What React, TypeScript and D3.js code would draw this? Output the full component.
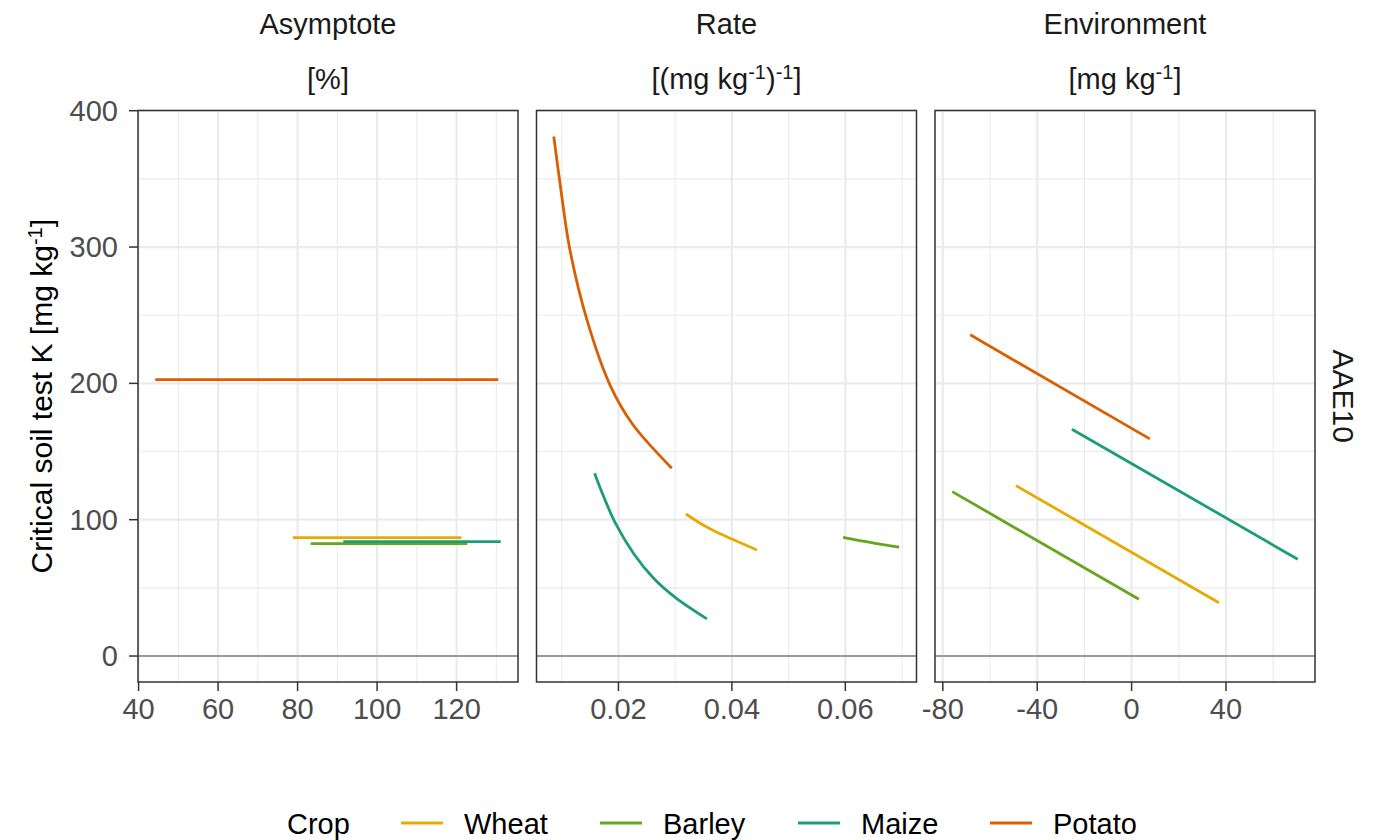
import React from "react";
import * as d3 from "d3";

// facets and crops
const facetNames = ["Asymptote", "Rate", "Environment"];
const crops = ["Wheat", "Barley", "Maize", "Potato"];
const cropColors = ["#E6AB02", "#66A61E", "#1B9E77", "#D95F02"];

// x ticks per facet
const asymTicks = [40, 60, 80, 100, 120];
const rateTicks = [0.02, 0.04, 0.06];
const envTicks = [-80, -40, 0, 40];
const yTicks = [0, 100, 200, 300, 400];

// Asymptote [%] vs critical K
const asymWheat = [[78.8, 86.8], [121.2, 86.8]];
const asymBarley = [[83.3, 82.4], [122.7, 82.4]];
const asymMaize = [[91.5, 83.9], [131.1, 83.9]];
const asymPotato = [[44.2, 202.8], [130.5, 202.8]];

// Rate vs critical K
const rateWheat = [[0.0319, 104.2], [0.0344, 97.4], [0.037, 91.5], [0.04, 85.8], [0.0444, 77.8]];
const rateBarley = [[0.0596, 87.1], [0.0646, 83.2], [0.0695, 79.8]];
const rateMaize = [[0.0158, 134], [0.0169, 122], [0.0194, 98], [0.0227, 75], [0.0262, 57], [0.03, 43], [0.0356, 27.2]];
const ratePotato = [[0.0086, 381.1], [0.00976, 345], [0.0114, 299], [0.01449, 246], [0.0186, 198], [0.0225, 170], [0.0294, 137.8]];

// Environment vs critical K
const envWheat = [[-49, 125], [37, 39.1]];
const envBarley = [[-76, 120.6], [3.1, 41.6]];
const envMaize = [[-25.3, 166.4], [70.4, 71]];
const envPotato = [[-68.4, 235.6], [7.7, 159.3]];

const facetData = [
  [asymWheat, asymBarley, asymMaize, asymPotato],
  [rateWheat, rateBarley, rateMaize, ratePotato],
  [envWheat, envBarley, envMaize, envPotato],
];
const facetTicks = [asymTicks, rateTicks, envTicks];
const tickFormat = [(d) => String(d), (d) => d3.format(".2f")(d), (d) => String(d)];

const font = "'Liberation Sans', Arial, Helvetica, sans-serif";
const W = 1378, H = 840;
const top = 110.5, bottom = 682;
const panelLeft = [138, 536.5, 935];
const panelW = 380;

// ggplot-like 5% expansion
const expand = ([a, b]) => [a - 0.05 * (b - a), b + 0.05 * (b - a)];

// label parts: plain strings, or {sup} for a superscript
const renderParts = (parts) => {
  let shifted = false;
  return parts.map((p, i) => {
    if (typeof p === "string") {
      const dy = shifted ? 10 : 0;
      shifted = false;
      return <tspan key={i} dy={dy}>{p}</tspan>;
    }
    shifted = true;
    return <tspan key={i} dy={-10} fontSize={20}>{p.sup}</tspan>;
  });
};

const App = () => {
  const allY = facetData.flat(2).map((p) => p[1]).concat([0]);
  const y = d3.scaleLinear().domain(expand(d3.extent(allY))).range([bottom, top]);
  const yMinor = [50, 150, 250, 350];
  const line = (x) => d3.line().x((d) => x(d[0])).y((d) => y(d[1])).curve(d3.curveCatmullRom.alpha(0.5));

  const stripLabels = [
    ["[%]"],
    ["[(mg kg", { sup: "-1" }, ")", { sup: "-1" }, "]"],
    ["[mg kg", { sup: "-1" }, "]"],
  ];

  const panels = facetData.map((series, i) => {
    const xs = series.flat().map((p) => p[0]);
    const x = d3.scaleLinear().domain(expand(d3.extent(xs))).range([panelLeft[i], panelLeft[i] + panelW]);
    const ticks = facetTicks[i];
    const step = ticks[1] - ticks[0];
    const minor = d3.range(ticks[0] - step / 2, ticks[ticks.length - 1] + step, step)
      .filter((v) => v >= x.domain()[0] && v <= x.domain()[1]);
    const cx = panelLeft[i] + panelW / 2;
    return (
      <g key={facetNames[i]}>
        <rect x={panelLeft[i]} y={top} width={panelW} height={bottom - top} fill="#fff" />
        {yMinor.map((v) => (
          <line key={"ym" + v} x1={panelLeft[i]} x2={panelLeft[i] + panelW} y1={y(v)} y2={y(v)} stroke="#EBEBEB" strokeWidth={1.1} />
        ))}
        {minor.map((v) => (
          <line key={"xm" + v} x1={x(v)} x2={x(v)} y1={top} y2={bottom} stroke="#EBEBEB" strokeWidth={1.1} />
        ))}
        {yTicks.map((v) => (
          <line key={"yM" + v} x1={panelLeft[i]} x2={panelLeft[i] + panelW} y1={y(v)} y2={y(v)} stroke="#EBEBEB" strokeWidth={2.2} />
        ))}
        {ticks.map((v) => (
          <line key={"xM" + v} x1={x(v)} x2={x(v)} y1={top} y2={bottom} stroke="#EBEBEB" strokeWidth={2.2} />
        ))}
        <line x1={panelLeft[i]} x2={panelLeft[i] + panelW} y1={y(0)} y2={y(0)} stroke="#999999" strokeWidth={2.2} />
        {series.map((pts, k) => (
          <path key={crops[k]} d={line(x)(pts)} fill="none" stroke={cropColors[k]} strokeWidth={2.8} />
        ))}
        <rect x={panelLeft[i]} y={top} width={panelW} height={bottom - top} fill="none" stroke="#333333" strokeWidth={1.5} />
        {ticks.map((v) => (
          <g key={"t" + v}>
            <line x1={x(v)} x2={x(v)} y1={bottom} y2={bottom + 9} stroke="#333333" strokeWidth={1.5} />
            <text x={x(v)} y={719} textAnchor="middle" fontSize={29} fill="#4D4D4D">{tickFormat[i](v)}</text>
          </g>
        ))}
        <text x={cx} y={34} textAnchor="middle" fontSize={29} fill="#1A1A1A">{facetNames[i]}</text>
        <text x={cx} y={89} textAnchor="middle" fontSize={29} fill="#1A1A1A">{renderParts(stripLabels[i])}</text>
      </g>
    );
  });

  const legendX = [401, 600, 798, 990];

  return (
    <svg width={W} height={H} style={{ position: "absolute", left: 0, top: 0, fontFamily: font }}>
      <rect width={W} height={H} fill="#fff" />
      {panels}
      {yTicks.map((v) => (
        <g key={"yt" + v}>
          <line x1={panelLeft[0] - 9} x2={panelLeft[0]} y1={y(v)} y2={y(v)} stroke="#333333" strokeWidth={1.5} />
          <text x={118} y={y(v) + 10} textAnchor="end" fontSize={29} fill="#4D4D4D">{v}</text>
        </g>
      ))}
      <text transform={`translate(52,${(top + bottom) / 2}) rotate(-90)`} textAnchor="middle" fontSize={30} fill="#000">
        {renderParts(["Critical soil test K [mg kg", { sup: "-1" }, "]"])}
      </text>
      <text transform={`translate(1333,${(top + bottom) / 2}) rotate(90)`} textAnchor="middle" fontSize={30} fill="#1A1A1A">AAE10</text>
      <text x={287} y={834} fontSize={29} fill="#000">Crop</text>
      {crops.map((c, k) => (
        <g key={c}>
          <line x1={legendX[k]} x2={legendX[k] + 42} y1={823} y2={823} stroke={cropColors[k]} strokeWidth={3} />
          <text x={legendX[k] + 63} y={834} fontSize={29} fill="#000">{c}</text>
        </g>
      ))}
    </svg>
  );
};

export default App;
